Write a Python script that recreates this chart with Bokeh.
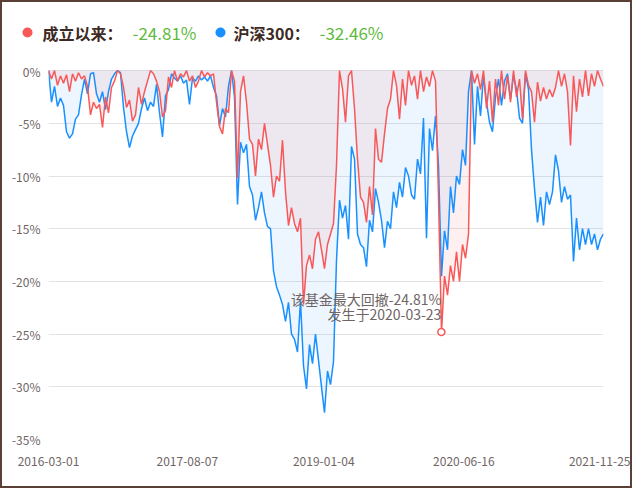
import pandas as pd
from bokeh.plotting import figure
from bokeh.models import (Range1d, FixedTicker, DatetimeTickFormatter,
                          PrintfTickFormatter, Label)
from bokeh.layouts import column
from bokeh.embed import file_html
from bokeh.resources import INLINE
from bokeh.core.properties import value

# ---------------- data ----------------
start_date = "2016-03-01"
end_date = "2021-11-25"
x_tick_labels = ["2016-03-01", "2017-08-07", "2019-01-04", "2020-06-16", "2021-11-25"]
y_ticks = [0, -5, -10, -15, -20, -25, -30, -35]
series_names = ["成立以来", "沪深300"]
max_dd_date = "2020-03-23"

fund_dd = [
    0, -0.8, 0, -1.4, -0.5, -1.2, -0.4, -2.0, -0.3, -1.0,
    -0.2, -0.8, -0.5, -1.5, -4.2, -3.0, -3.6, -3.2, -5.4, -2.5,
    -4.0, -1.6, -1.0, 0, -0.3, -1.6, -3.5, -2.8, -4.8, -4.2,
    -1.6, -3.2, -2.0, -1.0, 0, -0.3, -1.0, -2.0, -4.4, -3.8,
    -0.6, -1.6, 0, -1.0, -0.3, -0.6, 0, -1.0, -0.5, -1.6,
    -1.0, 0, -0.6, -0.2, -0.5, -0.3, -3.0, -5.3, -6.0, -3.6,
    -4.0, 0, -1.0, -10.2, -2.0, -0.5, -3.0, -6.5, -7.0, -10.0,
    -6.5, -7.5, -5.0, -7.0, -9.0, -12.0, -10.0, -10.5, -6.6, -11.5,
    -14.7, -13.0, -14.5, -15.3, -14.0, -22.2, -18.5, -17.5, -18.8, -16.0,
    -15.3, -17.0, -18.8, -16.5, -15.5, -14.5, -9.0, 0, -1.7, -4.9,
    -0.5, 0, -3.6, -8.4, -12.0, -12.5, -14.4, -11.0, -13.7, -5.5,
    -8.4, -8.7, -6.0, -3.6, -2.7, 0, -1.4, -4.6, -0.8, -3.3,
    0, -1.4, -0.5, -2.7, 0, -2.0, -0.6, -1.5, 0, -1.0,
    -12.0, -24.81, -19.5, -21.3, -18.5, -20.0, -17.2, -20.0, -16.5, -17.8,
    -15.5, 0, -1.2, -0.3, -1.8, 0, -3.6, -1.0, -4.9, -0.8,
    -3.3, 0, -2.7, -0.5, -3.0, 0, -2.5, -0.8, -4.6, 0,
    -1.4, -2.0, -4.9, -1.1, -2.9, -1.6, -2.7, -1.8, -2.5, -1.6,
    0, -1.5, -0.3, -2.0, -7.1, -0.5, -3.9, -0.8, -2.5, 0,
    -2.4, -0.3, -1.5, 0, -0.8, -1.5,
]

hs300_dd = [
    0, -3.0, -1.5, -3.4, -2.6, -3.3, -5.8, -6.4, -6.0, -4.6,
    -4.2, -2.3, -0.8, -2.2, -0.3, -0.2, -2.2, -3.0, -2.0, -3.7,
    -2.0, -0.8, -0.3, 0, -0.2, -3.5, -5.8, -7.3, -6.2, -5.6,
    -5.0, -3.6, -2.6, -3.8, -3.0, -3.4, -1.3, -4.0, -6.3, -2.4,
    -1.8, -0.3, -0.7, -1.0, -0.5, -1.2, -0.9, -3.2, -0.7, -1.0,
    -0.5, -0.9, -0.6, -1.0, -0.5, -1.6, -2.4, -5.2, -3.6, -4.4,
    -1.5, 0, -2.5, -12.7, -6.8, -7.8, -7.0, -11.0, -11.8, -14.2,
    -13.0, -11.5, -13.5, -14.8, -15.0, -19.0, -20.5, -21.3, -22.2, -23.8,
    -22.0, -25.0, -25.5, -26.7, -21.8, -28.0, -30.2, -26.0, -27.8, -25.0,
    -27.5, -30.0, -32.46, -28.5, -29.8, -27.6, -18.0, -12.3, -14.0, -12.8,
    -16.0, -7.2, -8.4, -15.5, -16.5, -16.8, -18.6, -14.2, -15.3, -11.2,
    -12.5, -14.2, -16.8, -14.3, -15.0, -11.5, -13.0, -10.6, -12.0, -9.2,
    -10.0, -11.8, -12.2, -8.4, -9.8, -4.5, -15.9, -5.5, -7.6, -4.3,
    -9.0, -19.5, -15.2, -17.0, -11.0, -13.5, -10.0, -10.8, -7.5, -9.0,
    -2.0, 0, -7.0, -1.5, -4.3, -0.5, -3.0, -4.9, -5.8, -2.5,
    -0.8, -3.3, -1.0, -0.3, -2.7, -0.5, -1.8, -4.5, -5.0, -0.3,
    -1.8, -7.5, -11.2, -14.4, -12.0, -14.7, -11.5, -12.7, -11.5, -8.0,
    -9.5, -12.5, -11.0, -12.2, -11.8, -18.1, -14.0, -17.0, -15.0, -16.5,
    -15.0, -16.5, -15.5, -17.0, -16.0, -15.5,
]

dates = pd.date_range(start_date, end_date, periods=len(fund_dd))

# ---------------- style ----------------
RED = "#f95858"
BLUE = "#1890ff"
GREEN = "#5fba3f"
DARK = "#3d2a24"
GREY = "#6f6565"
FONT = "Noto Sans CJK SC"

def ms(d):
    return pd.Timestamp(d).timestamp() * 1000.0

fund_max = min(fund_dd)
hs_max = min(hs300_dd)

# ---------------- header (legend) figure ----------------
hdr = figure(width=628, height=60, x_range=Range1d(0, 628), y_range=Range1d(0, 60),
             toolbar_location=None, output_backend="svg",
             min_border_left=0, min_border_right=0, min_border_top=0, min_border_bottom=0,
             x_axis_location=None, y_axis_location=None)
hdr.grid.visible = False
hdr.outline_line_color = None
hdr.scatter(x=[25, 218], y=[30, 30], size=10, color=[RED, BLUE], line_color=None)
hdr.text(x=[40, 231], y=[30, 30], text=[series_names[0] + "：", series_names[1] + "："],
         text_font=value(FONT), text_font_size="16px", text_font_style="bold",
         text_baseline="middle", text_color=DARK)
hdr.text(x=[130, 317], y=[30, 30], text=[f"{fund_max:.2f}%", f"{hs_max:.2f}%"],
         text_font=value(FONT), text_font_size="17px",
         text_baseline="middle", text_color=GREEN)

# ---------------- main chart ----------------
p = figure(width=628, height=424, x_axis_type="datetime",
           x_range=Range1d(pd.Timestamp(start_date), pd.Timestamp(end_date)),
           y_range=Range1d(-35, 0.2),
           toolbar_location=None, output_backend="svg",
           min_border_left=46, min_border_right=27, min_border_top=6, min_border_bottom=47)
p.outline_line_color = None
p.xgrid.visible = False
p.ygrid.grid_line_color = "#e3e3e3"
p.ygrid.grid_line_width = 1

p.varea(x=dates, y1=0, y2=hs300_dd, fill_color=BLUE, fill_alpha=0.08)
p.varea(x=dates, y1=0, y2=fund_dd, fill_color=RED, fill_alpha=0.09)
p.line(x=dates, y=hs300_dd, line_color=BLUE, line_width=1.5)
p.line(x=dates, y=fund_dd, line_color=RED, line_width=1.5)

p.yaxis.ticker = FixedTicker(ticks=y_ticks)
p.yaxis.formatter = PrintfTickFormatter(format="%d%%")
p.xaxis.ticker = FixedTicker(ticks=[ms(d) for d in x_tick_labels])
fmt = "%Y-%m-%d"
p.xaxis.formatter = DatetimeTickFormatter(days=fmt, months=fmt, years=fmt, hours=fmt,
                                          hourmin=fmt, minutes=fmt, minsec=fmt,
                                          seconds=fmt, milliseconds=fmt, microseconds=fmt)
for ax in (p.xaxis, p.yaxis):
    ax.axis_line_color = None
    ax.major_tick_line_color = None
    ax.minor_tick_line_color = None
    ax.major_tick_out = 0
    ax.major_tick_in = 0
    ax.major_label_text_font = FONT
    ax.major_label_text_font_size = "12px"
    ax.major_label_text_color = GREY
p.yaxis.major_label_standoff = 8
p.xaxis.major_label_standoff = 17

# max drawdown annotation
dd_x = ms(max_dd_date)
p.scatter(x=[pd.Timestamp(max_dd_date)], y=[fund_max], size=7, line_color=RED,
          fill_color="white", line_width=1.5)
p.add_layout(Label(x=dd_x, y=fund_max, text=f"该基金最大回撤{fund_max:.2f}%",
                   text_align="right", text_baseline="middle", y_offset=33,
                   text_font=FONT, text_font_size="14px", text_color=GREY))
p.add_layout(Label(x=dd_x, y=fund_max, text=f"发生于{max_dd_date}",
                   text_align="right", text_baseline="middle", y_offset=18,
                   text_font=FONT, text_font_size="14px", text_color=GREY))

# nest each figure in its own column so their frames are not aligned
layout = column(column(hdr), column(p), styles={"border": "2px solid #5b4037"})

open("out.html", "w").write(file_html(layout, INLINE))
